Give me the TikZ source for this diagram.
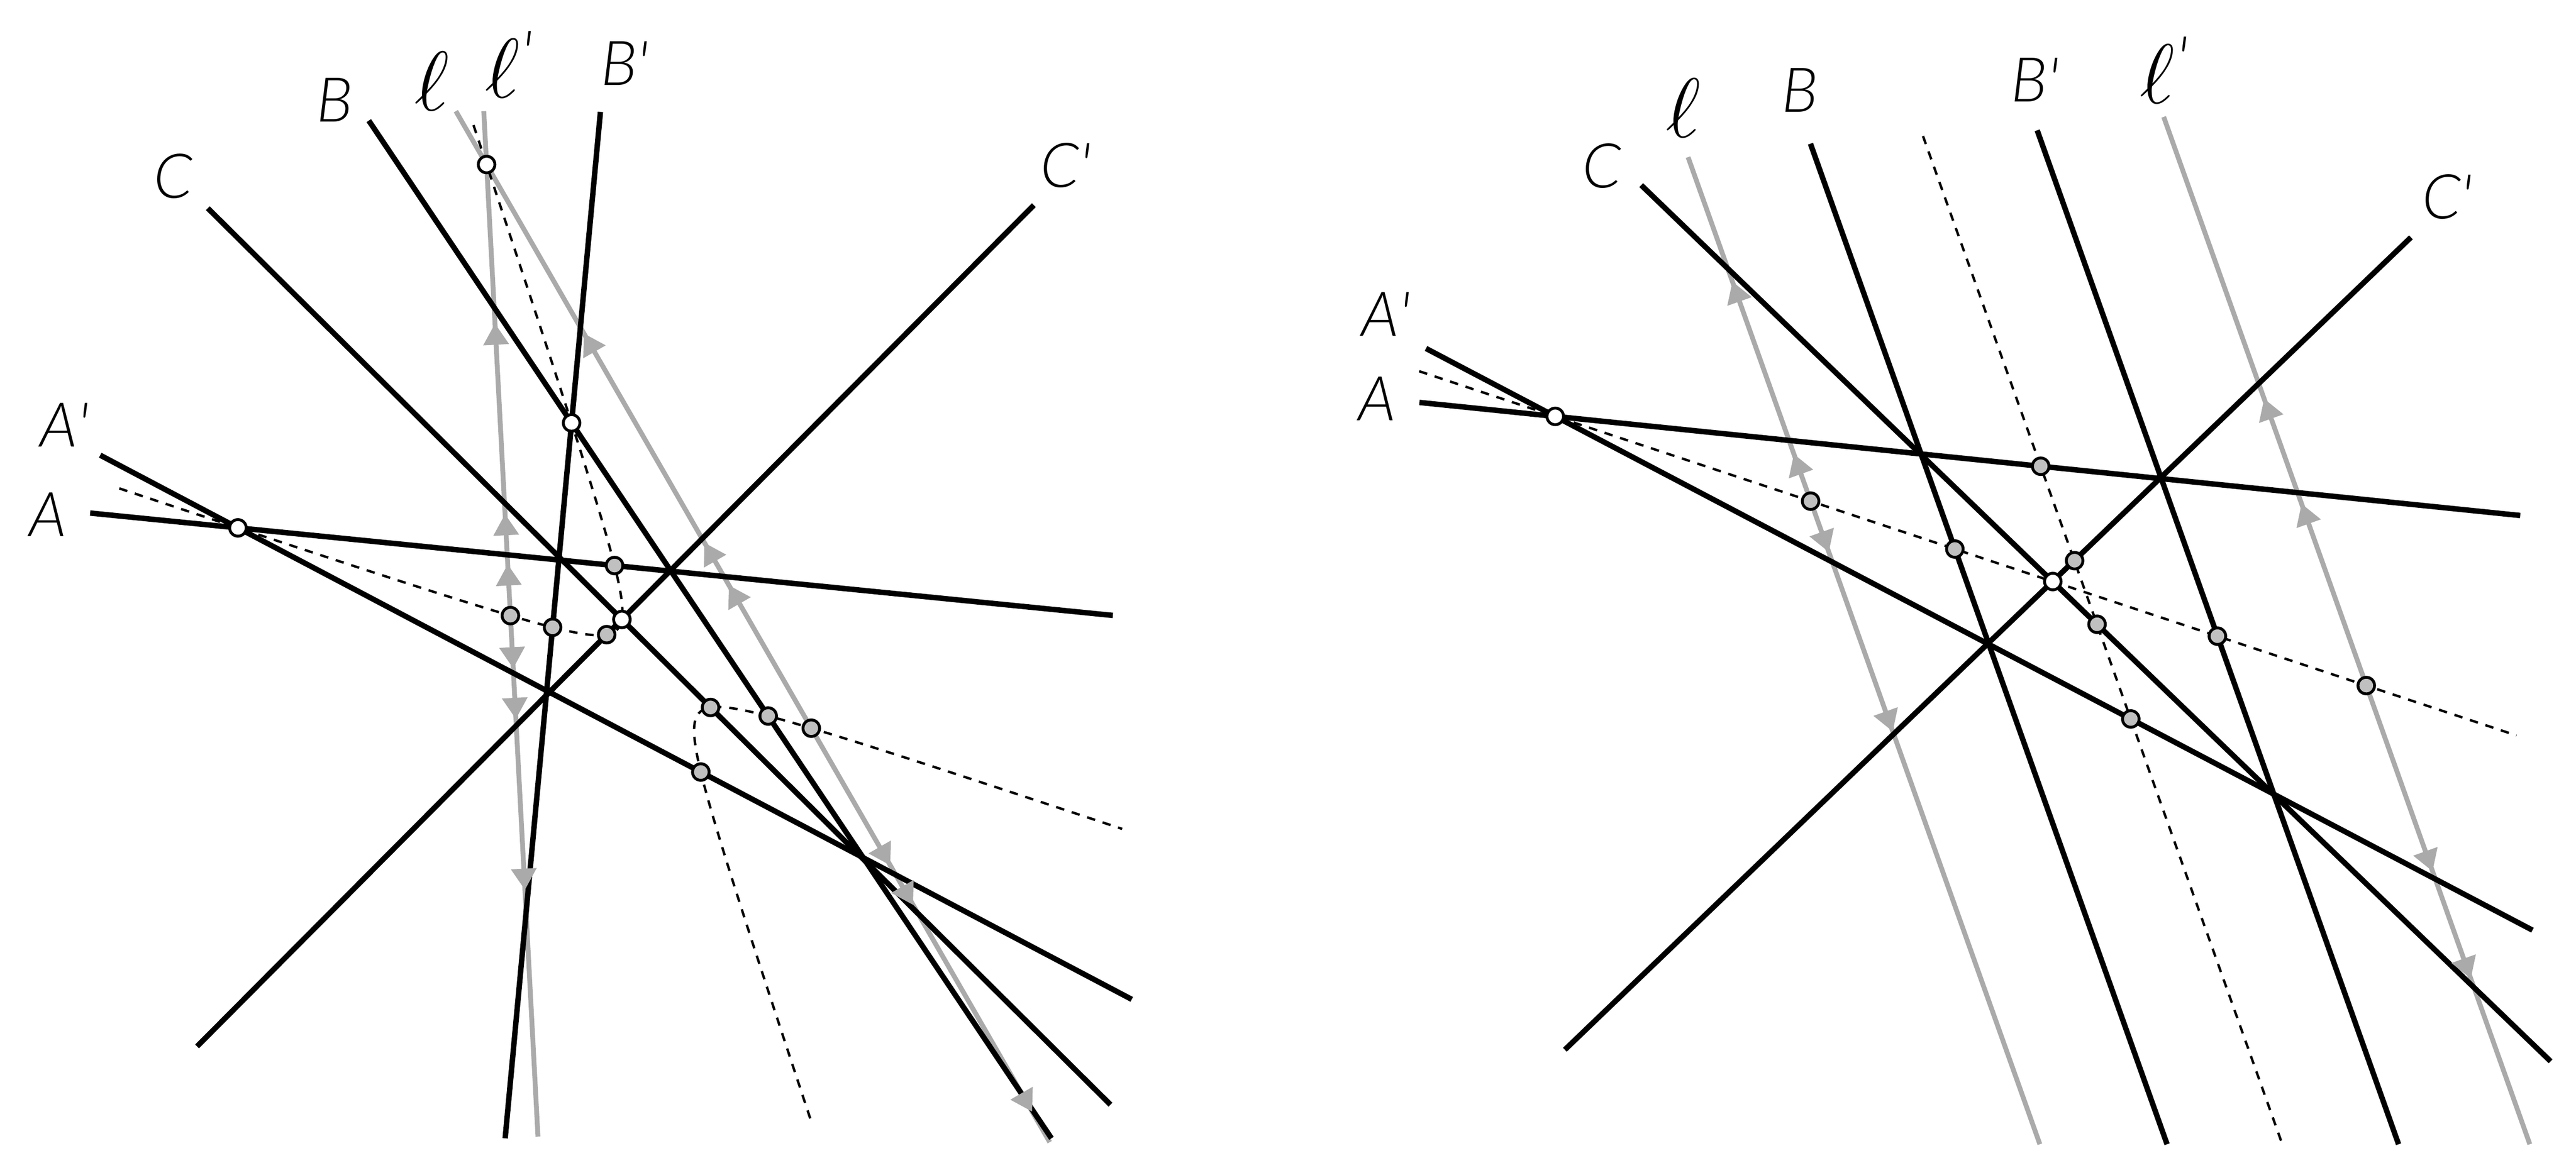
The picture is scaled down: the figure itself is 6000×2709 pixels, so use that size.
\documentclass[tikz,border=0pt]{standalone}
\usepackage{fontspec}
\IfFontExistsTF{Lato Light}{\setmainfont{Lato Light}}{\setmainfont{Lato}}
\usepackage{graphicx}
\usetikzlibrary{arrows.meta,decorations.markings,intersections,calc}
\definecolor{lgray}{RGB}{170,170,170}
\definecolor{dotgray}{RGB}{192,192,192}
\tikzset{
  blk/.style={line width=1.8pt,black},
  gry/.style={line width=1.6pt,lgray},
  dsh/.style={line width=0.8pt,black,dash pattern=on 2.8pt off 2.6pt},
  wdot/.style={circle,draw=black,fill=white,line width=0.95pt,minimum size=5.5pt,inner sep=0pt},
  gdot/.style={wdot,fill=dotgray},
  lbl/.style={inner sep=0pt,font=\fontsize{20.5}{24}\selectfont\itshape},
  elbl/.style={inner sep=0pt,font=\fontsize{20.5}{24}\selectfont},
  gtip/.tip={Triangle[length=7pt,width=8.5pt,color=lgray]},
}
\newcommand\myell{\scalebox{1.35}{$\ell$}}
\newcommand\myellp{\scalebox{1.35}{$\ell$}\kern0.5pt\raisebox{7.5pt}{\itshape\textquotesingle}}
\begin{document}
\begin{tikzpicture}[x=0.005cm,y=-0.005cm]
\useasboundingbox (0,0) rectangle (6000,2709);

% ================= LEFT PANEL =================
\coordinate (a1) at (210,1195.3);    \coordinate (a2) at (2592,1433.8);
\coordinate (ap1) at (233.4,1060.5); \coordinate (ap2) at (2636,2328.3);
\coordinate (b1) at (859,281);       \coordinate (b2) at (2449,2652);
\coordinate (bp1) at (1398.5,260.7); \coordinate (bp2) at (1176.6,2652);
\coordinate (c1) at (484,485);       \coordinate (c2) at (2586.5,2573.7);
\coordinate (cp1) at (2408,478);     \coordinate (cp2) at (459,2438);
\coordinate (l1) at (1061.8,259);    \coordinate (l2) at (2445,2661);
\coordinate (lp1) at (1126.8,259);   \coordinate (lp2) at (1253,2648);

% gray lines
\draw[gry,name path=LL] (l1) -- (l2);
\draw[gry,name path=LLp] (lp1) -- (lp2);

% black lines
\draw[blk,name path=LA] (a1) -- (a2);
\draw[blk,name path=LAp] (ap1) -- (ap2);
\draw[blk,name path=LB] (b1) -- (b2);
\draw[blk,name path=LBp] (bp1) -- (bp2);
\draw[blk,name path=LC] (c1) -- (c2);
\draw[blk,name path=LCp] (cp1) -- (cp2);

% arrowheads on gray lines
\path[decorate,decoration={markings,
  mark=at position 0.2157 with {\arrowreversed{gtip}},
  mark=at position 0.4188 with {\arrowreversed{gtip}},
  mark=at position 0.4600 with {\arrowreversed{gtip}},
  mark=at position 0.7315 with {\arrow{gtip}},
  mark=at position 0.7698 with {\arrow{gtip}},
  mark=at position 0.9704 with {\arrow{gtip}}}] (l1) -- (l2);
\path[decorate,decoration={markings,
  mark=at position 0.2072 with {\arrowreversed{gtip}},
  mark=at position 0.3930 with {\arrowreversed{gtip}},
  mark=at position 0.4420 with {\arrowreversed{gtip}},
  mark=at position 0.5433 with {\arrow{gtip}},
  mark=at position 0.5927 with {\arrow{gtip}},
  mark=at position 0.7593 with {\arrow{gtip}}}] (lp1) -- (lp2);

% hyperbola (two branches)
\draw[dsh,name path=BR1] plot[domain=-2.87:2.87,samples=160,variable=\w]
  ({1533.2-72.05*(exp(\w)+0.33543*exp(-\w))},{1563.6-72.05*(0.33622*exp(\w)+exp(-\w))});
\draw[dsh,name path=BR2] plot[domain=-2.67:2.708,samples=160,variable=\w]
  ({1533.2+72.05*(exp(\w)+0.33543*exp(-\w))},{1563.6+72.05*(0.33622*exp(\w)+exp(-\w))});

% intersection points on the conic
\path[name intersections={of=LA and BR1,sort by=LA,name=iA}];
\path[name intersections={of=LAp and BR2,name=iAp}];
\path[name intersections={of=LB and BR2,name=iB}];
\path[name intersections={of=LBp and BR1,sort by=LBp,name=iBp}];
\path[name intersections={of=LC and BR2,name=iC}];
\path[name intersections={of=LCp and BR1,sort by=LCp,name=iCp}];
\path[name intersections={of=LL and BR2,name=iL}];
\path[name intersections={of=LLp and BR1,sort by=LLp,name=iLp}];

\node[gdot] (gA) at (iA-2) {};
\node[gdot] (gAp) at (iAp-1) {};
\node[gdot] (gB) at (iB-1) {};
\node[gdot] (gBp) at (iBp-2) {};
\node[gdot] (gC) at (iC-1) {};
\node[gdot] (gCp) at (iCp-2) {};
\node[gdot] (gL) at (iL-1) {};
\node[gdot] (gLp) at (iLp-2) {};

\node[wdot] (wA) at (intersection of a1--a2 and ap1--ap2) {};
\node[wdot] (wB) at (intersection of b1--b2 and bp1--bp2) {};
\node[wdot] (wC) at (intersection of c1--c2 and cp1--cp2) {};
\node[wdot] (wL) at (intersection of l1--l2 and lp1--lp2) {};

% labels
\node[lbl] (tA) at (112,1199) {A};
\node[lbl] (tAp) at (150,990) {A\textquotesingle};
\node[lbl] (tB) at (780,233) {B};
\node[lbl] (tBp) at (1455,148) {B\textquotesingle};
\node[lbl] (tC) at (404,411) {C};
\node[lbl] (tCp) at (2482,385) {C\textquotesingle};
\node[elbl] (tl) at (1006,189) {\myell};
\node[elbl] (tlp) at (1185,150) {\myellp};

% ================= RIGHT PANEL =================
\coordinate (ra1) at (3306.1,937.6);  \coordinate (ra2) at (5870,1201);
\coordinate (rap1) at (3321.4,811.8); \coordinate (rap2) at (5898.6,2167.1);
\coordinate (rc1) at (3822.7,431.3);  \coordinate (rc2) at (5940.8,2472.7);
\coordinate (rcp1) at (5615.5,553);   \coordinate (rcp2) at (3644.8,2445.7);
\coordinate (rl1) at (3931.8,366.1);  \coordinate (rl2) at (4751.2,2665.9);
\coordinate (rb1) at (4216.9,334.8);  \coordinate (rb2) at (5047.5,2665.9);
\coordinate (rd1) at (4479,317);      \coordinate (rd2) at (5315.9,2665.9);
\coordinate (rbp1) at (4745,303.6);   \coordinate (rbp2) at (5586.7,2665.9);
\coordinate (rlp1) at (5039.6,272.3); \coordinate (rlp2) at (5892.4,2665.9);

\coordinate (RW1) at (intersection of ra1--ra2 and rap1--rap2);
\coordinate (RW3) at (intersection of rc1--rc2 and rcp1--rcp2);
\coordinate (re1) at ($(RW1)!-0.2735!(RW3)$);
\coordinate (re2) at ($(RW1)!1.9319!(RW3)$);

\draw[gry] (rl1) -- (rl2);
\draw[gry] (rlp1) -- (rlp2);

\draw[blk] (ra1) -- (ra2);
\draw[blk] (rap1) -- (rap2);
\draw[blk] (rb1) -- (rb2);
\draw[blk] (rbp1) -- (rbp2);
\draw[blk] (rc1) -- (rc2);
\draw[blk] (rcp1) -- (rcp2);

\path[decorate,decoration={markings,
  mark=at position 0.1261 with {\arrowreversed{gtip}},
  mark=at position 0.3009 with {\arrowreversed{gtip}},
  mark=at position 0.4000 with {\arrow{gtip}},
  mark=at position 0.5818 with {\arrow{gtip}}}] (rl1) -- (rl2);
\path[decorate,decoration={markings,
  mark=at position 0.2744 with {\arrowreversed{gtip}},
  mark=at position 0.3767 with {\arrowreversed{gtip}},
  mark=at position 0.7343 with {\arrow{gtip}},
  mark=at position 0.8388 with {\arrow{gtip}}}] (rlp1) -- (rlp2);

\draw[dsh] (re1) -- (re2);
\draw[dsh] (rd1) -- (rd2);

\node[gdot] (rgL) at (intersection of re1--re2 and rl1--rl2) {};
\node[gdot] (rgB) at (intersection of re1--re2 and rb1--rb2) {};
\node[gdot] (rgBp) at (intersection of re1--re2 and rbp1--rbp2) {};
\node[gdot] (rgLp) at (intersection of re1--re2 and rlp1--rlp2) {};
\node[gdot] (rgA) at (intersection of rd1--rd2 and ra1--ra2) {};
\node[gdot] (rgCp) at (intersection of rd1--rd2 and rcp1--rcp2) {};
\node[gdot] (rgC) at (intersection of rd1--rd2 and rc1--rc2) {};
\node[gdot] (rgAp) at (intersection of rd1--rd2 and rap1--rap2) {};
\node[wdot] (rwA) at (RW1) {};
\node[wdot] (rwC) at (RW3) {};

\node[lbl] (rtA) at (3208,929) {A};
\node[lbl] (rtAp) at (3228,732) {A\textquotesingle};
\node[lbl] (rtC) at (3731,387) {C};
\node[lbl] (rtB) at (4192,210) {B};
\node[lbl] (rtBp) at (4740,186) {B\textquotesingle};
\node[lbl] (rtCp) at (5700,459) {C\textquotesingle};
\node[elbl] (rtl) at (3921,251) {\myell};
\node[elbl] (rtlp) at (5040,163) {\myellp};
\end{tikzpicture}
\end{document}
